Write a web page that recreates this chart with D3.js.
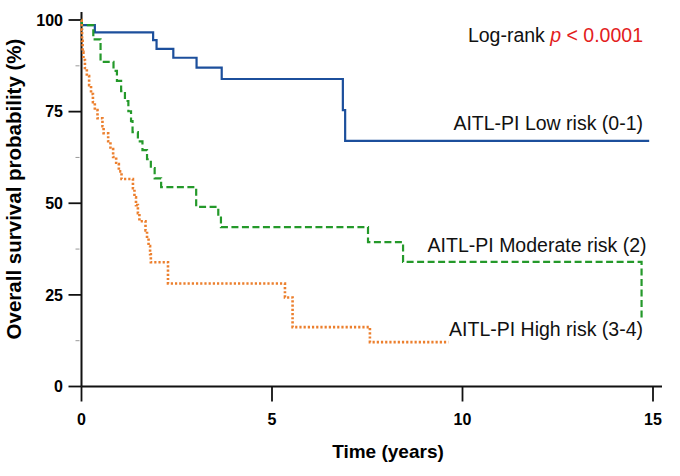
<!DOCTYPE html>
<html>
<head>
<meta charset="utf-8">
<script src="https://cdn.jsdelivr.net/npm/d3@7"></script>
<style>
  body { margin: 0; background: #fff; }
  svg { display: block; }
  .tick-label { font-family: "Liberation Sans Narrow", "Liberation Sans", Arial, sans-serif; font-weight: bold; font-size: 16px; }
  .axis-title { font-family: "Liberation Sans", Arial, sans-serif; font-weight: bold; }
  .curve-label { font-family: "Liberation Sans", Arial, sans-serif; font-size: 19.5px; fill: #111; }
</style>
</head>
<body>
<div id="chart"></div>
<script>
// Kaplan-Meier steps: time (years) and survival (%)
var lowTime  = [0, 0.01, 0.35, 1.88, 1.97, 2.41, 3.02, 3.68, 6.86, 6.92, 14.9];
var lowSurv  = [100, 98.6, 96.6, 94.5, 92.1, 89.7, 87.0, 83.9, 75.4, 67.0, 67.0];

var modTime  = [0, 0.01, 0.31, 0.50, 0.84, 0.93, 1.04, 1.14, 1.23, 1.30, 1.34,
                1.48, 1.60, 1.72, 1.82, 1.92, 2.09, 3.01, 3.59, 3.66, 7.52, 8.44, 14.70, 14.70];
var modSurv  = [100, 98.6, 94.7, 88.6, 86.1, 83.4, 80.6, 77.9, 75.1, 72.4, 69.4,
                66.9, 64.5, 62.0, 59.6, 56.8, 54.4, 49.0, 46.4, 43.5, 39.4, 34.0, 34.0, 18.5];

var highTime = [0, 0.005, 0.015, 0.03, 0.05, 0.09, 0.14, 0.20, 0.25, 0.30, 0.35, 0.42,
                0.55, 0.58, 0.70, 0.76, 0.83, 0.91, 0.98, 1.05, 1.35, 1.39, 1.43, 1.48,
                1.52, 1.68, 1.72, 1.76, 1.80, 1.82, 2.27, 5.34, 5.54, 7.57, 9.63];
var highSurv = [100, 97.3, 94.3, 91.3, 89.1, 86.9, 84.7, 82.2, 79.8, 77.6, 75.4, 73.2,
                71.0, 69.1, 66.9, 64.8, 62.6, 60.7, 58.7, 56.6, 54.1, 51.6, 49.5, 47.3,
                45.1, 42.6, 40.4, 38.3, 36.1, 33.9, 28.1, 24.3, 16.2, 12.1, 12.1];

var xTicks = [0, 5, 10, 15];
var yTicks = [0, 25, 50, 75, 100];
var yMinor = [12.5, 37.5, 62.5, 87.5];

var groupNames  = ["AITL-PI Low risk (0-1)", "AITL-PI Moderate risk (2)", "AITL-PI High risk (3-4)"];
var groupColors = ["#1c4f9c", "#24992a", "#ec7f2d"];

var width = 680, height = 476;
var x = d3.scaleLinear().domain([0, 15]).range([81.5, 653]);
var y = d3.scaleLinear().domain([0, 100]).range([386.5, 20]);

var svg = d3.select("#chart").append("svg")
    .attr("width", width).attr("height", height);

// axes lines (stretched a little past the last ticks, like the original)
svg.append("line").attr("x1", x(0)).attr("x2", x(15) + 9)
    .attr("y1", y(0)).attr("y2", y(0))
    .attr("stroke", "#111").attr("stroke-width", 2);
svg.append("line").attr("x1", x(0)).attr("x2", x(0))
    .attr("y1", y(0)).attr("y2", y(100) - 8)
    .attr("stroke", "#111").attr("stroke-width", 2);

// x ticks
var xt = svg.append("g");
xt.selectAll("line").data(xTicks).enter().append("line")
    .attr("x1", d => x(d)).attr("x2", d => x(d))
    .attr("y1", y(0)).attr("y2", y(0) + 15)
    .attr("stroke", "#111").attr("stroke-width", 1.8);
xt.selectAll("text").data(xTicks).enter().append("text")
    .attr("class", "tick-label")
    .attr("x", d => x(d)).attr("y", 425)
    .attr("text-anchor", "middle")
    .text(d => d);

// y ticks
var yt = svg.append("g");
yt.selectAll("line.major").data(yTicks).enter().append("line")
    .attr("class", "major")
    .attr("x1", x(0) - 13).attr("x2", x(0))
    .attr("y1", d => y(d)).attr("y2", d => y(d))
    .attr("stroke", "#111").attr("stroke-width", 1.8);
yt.selectAll("line.minor").data(yMinor).enter().append("line")
    .attr("class", "minor")
    .attr("x1", x(0) - 6).attr("x2", x(0) - 2)
    .attr("y1", d => y(d)).attr("y2", d => y(d))
    .attr("stroke", "#999").attr("stroke-width", 1);
yt.selectAll("text").data(yTicks).enter().append("text")
    .attr("class", "tick-label")
    .attr("x", 63).attr("y", d => y(d))
    .attr("dy", "0.36em")
    .attr("text-anchor", "end")
    .text(d => d);

// axis titles
svg.append("text").attr("class", "axis-title")
    .attr("x", 388).attr("y", 458)
    .attr("text-anchor", "middle")
    .style("font-size", "19px")
    .text("Time (years)");
svg.append("text").attr("class", "axis-title")
    .attr("transform", "translate(21,189) rotate(-90)")
    .attr("text-anchor", "middle")
    .style("font-size", "20.5px")
    .text("Overall survival probability (%)");

// curves
var line = d3.line()
    .x(d => x(d[0])).y(d => y(d[1]))
    .curve(d3.curveStepAfter);

var series = [
    d3.zip(lowTime, lowSurv),
    d3.zip(modTime, modSurv),
    d3.zip(highTime, highSurv)
];
var dashes = [null, "7,3.5", "2.2,2"];
var widths = [2.2, 2.2, 2.6];

series.forEach(function (s, i) {
    svg.append("path")
        .datum(s)
        .attr("d", line)
        .attr("fill", "none")
        .attr("stroke", groupColors[i])
        .attr("stroke-width", widths[i])
        .attr("stroke-dasharray", dashes[i]);
});

// curve labels
var labelPos = [[643, 129.5], [646.5, 251.5], [643, 336]];
groupNames.forEach(function (n, i) {
    svg.append("text").attr("class", "curve-label")
        .attr("x", labelPos[i][0]).attr("y", labelPos[i][1])
        .attr("text-anchor", "end")
        .text(n);
});

// log-rank annotation
var lr = svg.append("text").attr("class", "curve-label")
    .attr("x", 643).attr("y", 41.5)
    .attr("text-anchor", "end");
lr.append("tspan").text("Log-rank ");
lr.append("tspan").attr("fill", "#e3201c").style("font-style", "italic").text("p");
lr.append("tspan").attr("fill", "#e3201c").text(" < 0.0001");
</script>
</body>
</html>
